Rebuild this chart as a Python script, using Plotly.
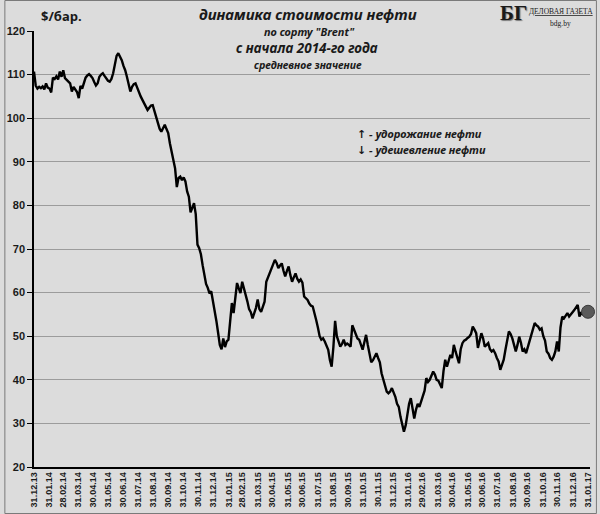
import pandas as pd
import plotly.graph_objects as go

# --- data -------------------------------------------------------------
start_date = "2013-12-31"
step = "84h"  # two readings per week

brent_price = [
    110.7, 107.5, 106.8, 107.2, 106.9, 107.3, 106.6, 108.0, 107.0, 106.8,
    105.9, 109.3, 109.0, 109.6, 108.9, 110.7, 109.5, 111.0, 109.2, 108.9,
    108.4, 108.0, 106.1, 107.2, 106.5, 106.0, 104.6, 107.4, 106.8, 108.0,
    109.3, 109.8, 110.1, 109.7, 109.2, 108.3, 107.5, 108.0, 109.5, 110.0,
    110.3, 109.7, 109.2, 108.6, 108.4, 109.0, 110.3, 112.0, 114.3, 114.9,
    114.2, 113.3, 112.0, 111.0, 109.5, 107.8, 106.1, 107.2, 107.8, 108.0,
    106.9, 105.8, 105.0, 104.2, 103.4, 102.8, 101.9, 102.4, 102.9, 103.0,
    101.5, 100.4, 99.0, 97.6, 96.9, 97.8, 98.5, 97.5, 96.6, 94.2,
    92.3, 91.0, 88.5, 84.2, 86.3, 86.6, 85.8, 86.4, 85.5, 83.2,
    82.0, 78.4, 79.5, 80.5, 78.0, 71.0, 70.2, 68.8, 66.3, 63.7,
    62.0, 61.1, 59.8, 60.3, 58.0, 56.5, 53.5, 50.8, 48.0, 47.0,
    49.5, 47.5, 48.8, 49.2, 53.0, 57.6, 55.3, 58.5, 62.2, 61.0,
    59.9, 62.5, 61.0, 59.9, 58.0, 56.2, 55.5, 54.1, 55.2, 56.5,
    58.4, 56.2, 55.6, 57.0, 57.9, 62.5, 63.5, 64.4, 65.2, 66.3,
    67.5, 66.8, 65.6, 66.2, 66.7, 65.0, 63.7, 65.0, 66.0, 64.0,
    62.5, 63.5, 64.4, 63.2, 62.5, 63.0, 62.3, 59.1, 58.8, 58.3,
    57.5, 57.0, 56.8, 55.5, 53.7, 52.0, 50.0, 49.2, 49.5, 48.8,
    47.8, 46.9, 44.5, 43.0, 47.5, 53.5, 50.0, 48.6, 47.6, 48.2,
    49.2, 48.0, 48.3, 48.0, 47.6, 52.5, 51.5, 50.3, 49.5, 49.2,
    47.8, 46.9, 48.6, 50.3, 48.0, 46.0, 44.0, 44.5, 45.5, 46.1,
    45.0, 44.0, 41.5, 40.2, 38.5, 37.3, 36.9, 37.3, 38.1, 37.2,
    36.1, 34.5, 33.8, 31.5, 30.0, 28.1, 29.5, 31.9, 34.5, 35.8,
    33.0, 31.1, 33.1, 34.5, 33.8, 35.0, 35.8, 37.5, 40.4, 39.5,
    40.0, 41.0, 41.9, 41.2, 40.0, 39.8, 38.8, 38.1, 42.0, 44.6,
    43.0, 44.5, 45.7, 45.0, 48.0, 46.5, 45.3, 43.8, 47.0, 48.4,
    49.0, 49.2, 49.6, 49.9, 50.5, 52.2, 51.5, 50.7, 47.3, 48.8,
    50.7, 49.5, 47.6, 48.0, 48.4, 47.0, 46.5, 46.8, 46.1, 45.0,
    44.2, 42.3, 43.5, 44.6, 46.9, 49.0, 51.1, 50.5, 49.5, 48.0,
    46.5, 48.0, 49.9, 48.5, 46.5, 47.0, 46.1, 47.5, 49.0, 50.5,
    52.0, 53.0, 52.5, 52.2, 51.5, 51.8, 50.0, 49.0, 46.5, 46.0,
    45.0, 44.6, 45.3, 46.5, 48.8, 46.5, 52.0, 54.5, 54.1, 54.8,
    55.3, 54.5, 54.9, 55.5, 56.0, 56.5, 57.2, 54.5, 55.5, 54.9,
    55.8, 55.2, 55.6,
]

tick_labels = [
    "31.12.13", "31.01.14", "28.02.14", "31.03.14", "30.04.14", "31.05.14",
    "30.06.14", "31.07.14", "31.08.14", "30.09.14", "31.10.14", "30.11.14",
    "31.12.14", "31.01.15", "28.02.15", "31.03.15", "30.04.15", "31.05.15",
    "30.06.15", "31.07.15", "31.08.15", "30.09.15", "31.10.15", "30.11.15",
    "31.12.15", "31.01.16", "29.02.16", "31.03.16", "30.04.16", "31.05.16",
    "30.06.16", "31.07.16", "31.08.16", "30.09.16", "31.10.16", "30.11.16",
    "31.12.16", "31.01.17",
]
y_ticks = [20, 30, 40, 50, 60, 70, 80, 90, 100, 110, 120]

dates = pd.date_range(start_date, periods=len(brent_price), freq=step)
tick_dates = pd.to_datetime(tick_labels, format="%d.%m.%y")

# --- styling ----------------------------------------------------------
BG = "#dcdcdc"
GRID = "#9c9c9c"
TXT = "#1a1a1a"
W, H = 600, 514
ML, MR, MT, MB = 30, 7, 31, 47
PW, PH = W - ML - MR, H - MT - MB


def px(x):
    return (x - ML) / PW


def py(y):
    return (H - MB - y) / PH


fig = go.Figure()
fig.add_trace(go.Scatter(
    x=dates, y=brent_price, mode="lines",
    line=dict(color="#000000", width=2.4), hoverinfo="skip", showlegend=False,
))
fig.add_trace(go.Scatter(
    x=[dates[-1]], y=[brent_price[-1]], mode="markers", cliponaxis=False,
    marker=dict(size=13, color="#5a5a5a", line=dict(color="#3a3a3a", width=1)),
    hoverinfo="skip", showlegend=False,
))

fig.update_layout(
    width=W, height=H,
    margin=dict(l=ML, r=MR, t=MT, b=MB, pad=0),
    paper_bgcolor=BG, plot_bgcolor=BG,
    font=dict(family="Liberation Sans, Arial, sans-serif", color=TXT),
    xaxis=dict(
        type="date",
        range=[pd.Timestamp("2013-12-31"), pd.Timestamp("2017-02-04")],
        tickvals=tick_dates, ticktext=tick_labels, tickangle=-90,
        tickfont=dict(size=9, weight="bold", color=TXT),
        showgrid=False, zeroline=False,
        showline=True, linecolor="#000000", linewidth=1.5,
        ticks="",
    ),
    yaxis=dict(
        range=[20, 120], tickvals=y_ticks,
        tickfont=dict(size=11, weight="bold", color=TXT),
        showgrid=True, gridcolor=GRID, gridwidth=1, zeroline=False,
        showline=True, linecolor="#000000", linewidth=1.5,
        ticks="outside", ticklen=5, tickcolor="#000000", tickwidth=1,
    ),
)

# box behind the title interrupting the top gridline
fig.add_shape(type="rect", xref="paper", yref="paper",
              x0=px(198), x1=px(415), y0=py(36), y1=py(26),
              fillcolor=BG, line=dict(width=0), layer="above")
# outer border
fig.add_shape(type="rect", xref="paper", yref="paper",
              x0=px(0.5), x1=px(W - 0.5), y0=py(H - 0.5), y1=py(0.5),
              line=dict(color="#7a7a7a", width=1), layer="above")


def note(text, x, y, size, family="Noto Sans, DejaVu Sans, sans-serif",
         xanchor="center", **kw):
    fig.add_annotation(text=text, xref="paper", yref="paper",
                       x=px(x), y=py(y), xanchor=xanchor, yanchor="middle",
                       showarrow=False,
                       font=dict(size=size, family=family, color=TXT, **kw))


note("<b><i>динамика стоимости нефти</i></b>", 307, 14, 15)
note("<b><i>по сорту \"Brent\"</i></b>", 309, 31, 11)
note("<b><i>с начала 2014-го года</i></b>", 306, 48, 13.5)
note("<b><i>средневное значение</i></b>", 307, 65, 10.5)
note("<b>$/бар.</b>", 35, 16, 13, xanchor="left")
note("<b>↑ <i>- удорожание нефти</i></b>", 355, 133, 11, xanchor="left")
note("<b>↓ <i>- удешевление нефти</i></b>", 355, 149, 11, xanchor="left")

# logo
note("<b>БГ</b>", 516, 13, 21, family="Liberation Serif, DejaVu Serif, serif",
     shadow="1px 1px 1px #777")
note("ДЕЛОВАЯ ГАЗЕТА", 564, 12, 7.5, family="Liberation Serif, DejaVu Serif, serif",
     lineposition="under")
note("bdg.by", 563, 23, 7.5, family="Liberation Serif, DejaVu Serif, serif")

fig.write_html("out.html", config={"displayModeBar": False},
               post_script="document.body.style.margin='0';")
